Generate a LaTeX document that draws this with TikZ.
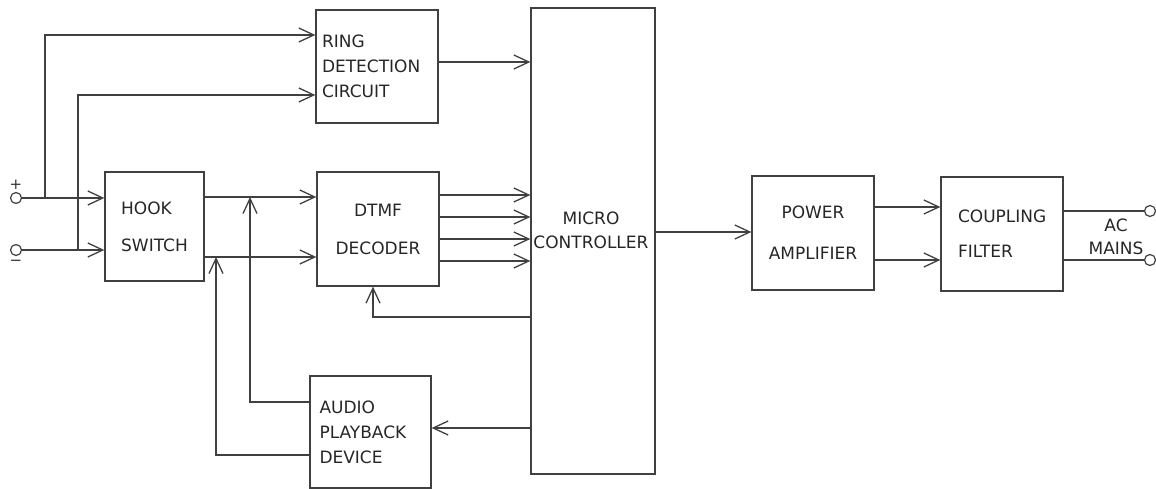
\documentclass[tikz,border=0pt]{standalone}
\usepackage{fontspec}
\setmainfont{DejaVu Sans}
\usetikzlibrary{arrows.meta,positioning}

\begin{document}
\begin{tikzpicture}[x=1pt,y=-1pt,>={Straight Barb[length=15pt,width=14pt]},
  line width=1.3pt,
  blk/.style={rectangle, draw=black!75, line width=1.3pt, inner sep=0pt, align=left,
    font=\fontsize{17}{20}\selectfont, text=black!85},
  pin/.style={circle, draw=black!75, line width=1.2pt, inner sep=0pt, minimum size=11pt},
  sign/.style={inner sep=0pt, font=\fontsize{15}{15}\selectfont, text=black!80},
  wire/.style={draw=black!75, line width=1.3pt}]

\useasboundingbox (0,0) rectangle (1156,489);

\node (ring) [blk, text width=110pt, minimum width=122pt, minimum height=113pt] at (377,66.5)
{RING\\[5pt]DETECTION\\[5pt]CIRCUIT};

\node (hook) [blk, minimum width=99pt, minimum height=109pt] at (154.5,226.5)
{HOOK\\[17pt]SWITCH};

\node (dtmf) [blk, align=center, minimum width=122pt, minimum height=114pt] at (378,229)
{DTMF\\[18pt]DECODER};

\node (mc) [blk, align=center, minimum width=124pt, minimum height=466pt] at (593,241)
{};
\node (mctext) [align=center, font=\fontsize{17}{24}\selectfont, text=black!85] at (591,230)
{MICRO\\CONTROLLER};

\node (audio) [blk, text width=102pt, minimum width=121pt, minimum height=112pt] at (370.5,432)
{AUDIO\\[5pt]PLAYBACK\\[5pt]DEVICE};

\node (power) [blk, align=center, minimum width=122pt, minimum height=114pt] at (813,233)
{POWER\\[21pt]AMPLIFIER};

\node (coupling) [blk, text width=88pt, minimum width=122pt, minimum height=114pt] at (1002,234)
{COUPLING\\[15pt]FILTER};

\node (mains) [align=center, font=\fontsize{17}{23}\selectfont, text=black!85] at (1116,237)
{AC\\MAINS};

% line terminals
\node (pin1) [pin] at (16,198) {};
\node (pin2) [pin] at (16,250) {};
\node (plus) [sign, above=2pt of pin1] {+};
\node (minus) [sign, below=3pt of pin2] {−};
\node (out1) [pin] at (1150,211) {};
\node (out2) [pin] at (1150,260) {};

\coordinate (tap1) at (45,198);
\coordinate (tap2) at (78,250);
\coordinate (join1) at (250,197);
\coordinate (join2) at (216,257);

\draw[wire,->] (pin1) -- (pin1 -| hook.west);
\draw[wire,->] (pin2) -- (pin2 -| hook.west);
\draw[wire,->] (tap1) |- (ring.west |- 0,35);
\draw[wire,->] (tap2) |- (ring.west |- 0,95);

\draw[wire,->] (ring.east |- 0,62) -- (mc.west |- 0,62);

\draw[wire,->] (hook.east |- join1) -- (dtmf.west |- join1);
\draw[wire,->] (hook.east |- join2) -- (dtmf.west |- join2);

\foreach \y in {195,217,239,261}
  \draw[wire,->] (dtmf.east |- 0,\y) -- (mc.west |- 0,\y);

\draw[wire,->] (mc.west |- 0,317) -| (dtmf.south -| 373,0);
\draw[wire,->] (mc.west |- 0,428) -- (audio.east |- 0,428);

\draw[wire,->] (audio.west |- 0,402) -| (join1);
\draw[wire,->] (audio.west |- 0,455) -| (join2);

\draw[wire,->] (mc.east |- 0,232) -- (power.west |- 0,232);
\draw[wire,->] (power.east |- 0,207) -- (coupling.west |- 0,207);
\draw[wire,->] (power.east |- 0,260) -- (coupling.west |- 0,260);

\draw[wire] (coupling.east |- out1) -- (out1);
\draw[wire] (coupling.east |- out2) -- (out2);

\end{tikzpicture}
\end{document}
